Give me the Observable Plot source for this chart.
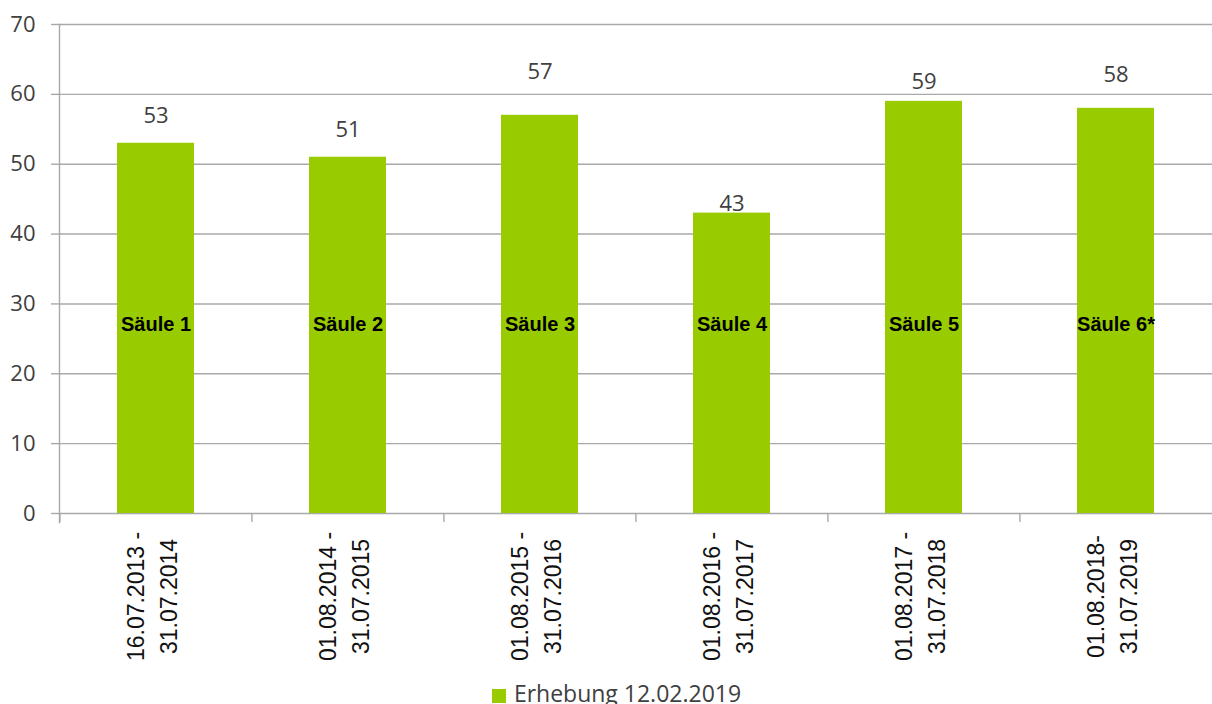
<!DOCTYPE html>
<html><head><meta charset="utf-8">
<script src="https://cdn.jsdelivr.net/npm/d3@7"></script>
<script src="https://cdn.jsdelivr.net/npm/@observablehq/plot@0.6"></script>
<style>
body{margin:0;background:#fff;overflow:hidden;}
#legend{font-family:"Open Sans";font-size:23px;color:#404040;text-align:center;padding-left:21px;line-height:26px;white-space:nowrap;}
#legend .sw{display:inline-block;width:14px;height:14px;background:#99cc00;margin-right:8px;vertical-align:-1px;}
</style></head>
<body><div id="chart"></div><div id="legend"></div>
<script>
const categories = ["16.07.2013 -\n31.07.2014","01.08.2014 -\n31.07.2015","01.08.2015 -\n31.07.2016","01.08.2016 -\n31.07.2017","01.08.2017 -\n31.07.2018","01.08.2018-\n31.07.2019"];
const values = [53, 51, 57, 43, 59, 58];
const barNames = ["Säule 1","Säule 2","Säule 3","Säule 4","Säule 5","Säule 6*"];
const yTicks = [0, 10, 20, 30, 40, 50, 60, 70];
const seriesName = "Erhebung 12.02.2019";

const data = categories.map((c, i) => ({cat: c, value: values[i], name: barNames[i]}));
const labelDy = [-27, -27, -43, -9, -19, -33];
const W = 1212, H = 680, mL = 59, mR = 0;
const step = (W - mL - mR) / categories.length;
const gray = "#a9a9a9";

const chart = Plot.plot({
  width: W, height: H,
  marginLeft: mL, marginRight: mR, marginTop: 24, marginBottom: 167,
  style: {background: "#fff"},
  x: {domain: categories, paddingInner: 0.6, paddingOuter: 0.3, axis: null},
  y: {domain: [0, 70], axis: null},
  marks: [
    Plot.gridY(yTicks, {stroke: gray, strokeOpacity: 1, strokeWidth: 1.4}),
    Plot.axisY(yTicks, {tickSize: 8, tickPadding: 16, stroke: gray, strokeWidth: 1.4, fill: "#404040",
      fontSize: 22, fontFamily: "Open Sans", label: null, tickFormat: d => String(d)}),
    Plot.frame({anchor: "left", insetBottom: -9, stroke: gray, strokeWidth: 1.4}),
    Plot.ruleX(categories, {x: d => d, y1: 0, y2: 0, dx: -step / 2, insetBottom: -9, stroke: gray, strokeWidth: 1.4}),
    Plot.barY(data, {x: "cat", y: "value", fill: "#99cc00"}),
    ...data.map((d, i) => Plot.text([d], {x: "cat", y: "value", text: v => String(v.value), dy: labelDy[i],
      fontSize: 22, fontFamily: "Open Sans", fill: "#404040"})),
    Plot.text(data, {x: "cat", y: () => 27, text: "name", fontWeight: "bold", fontSize: 20,
      fontFamily: "Liberation Sans", fill: "#000"}),
    Plot.text(categories, {x: d => d, text: d => d, frameAnchor: "bottom", dx: 21, dy: 83, rotate: -90,
      lineHeight: 1.45, fontSize: 23, fontFamily: "Liberation Sans", fill: "#111"})
  ]
});
document.getElementById("chart").append(chart);
document.getElementById("legend").innerHTML = '<span class="sw"></span>' + seriesName;
</script>
</body></html>
